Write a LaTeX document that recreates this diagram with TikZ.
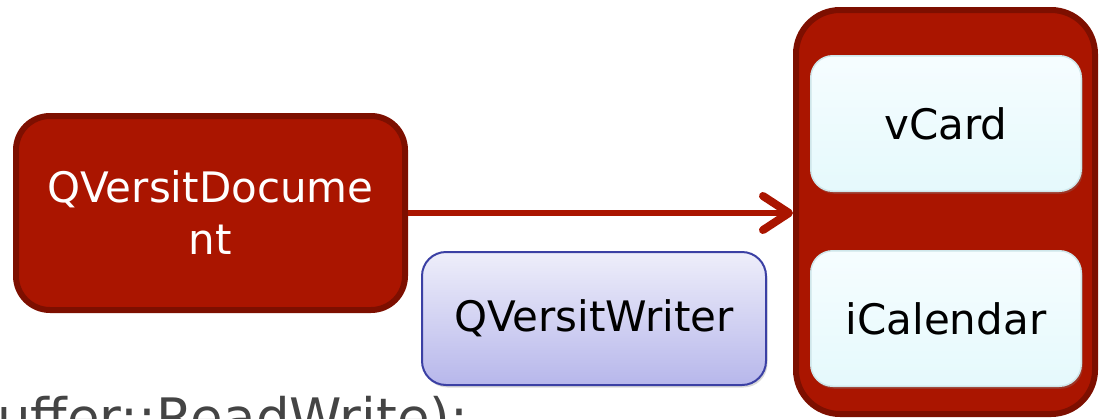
\documentclass[tikz,border=0pt]{standalone}
\usepackage{fontspec}
\setmainfont{DejaVu Sans}
\usetikzlibrary{arrows.meta,shadows}
\definecolor{qred}{HTML}{AA1500}
\definecolor{qdark}{HTML}{7D0F00}
\definecolor{cyantop}{HTML}{F6FDFF}
\definecolor{cyanbot}{HTML}{E5F9FC}
\definecolor{cyanline}{HTML}{CFE6EA}
\definecolor{lavtop}{HTML}{EEEEFA}
\definecolor{lavbot}{HTML}{B7B7EB}
\definecolor{lavline}{HTML}{3B40A4}
\definecolor{codegray}{HTML}{444444}
\tikzset{
  big/.style={font=\fontsize{42pt}{52pt}\selectfont},
  redbox/.style={big, draw=qdark, line width=6pt, fill=qred, text=white, inner sep=0pt, align=center,
    drop shadow={opacity=0.2, shadow xshift=1.5pt, shadow yshift=-2.5pt}},
  cardbox/.style={big, draw=cyanline, line width=1.5pt, top color=cyantop, bottom color=cyanbot, text=black,
    rounded corners=22pt, minimum width=270.5pt, minimum height=135.5pt, inner sep=0pt,
    drop shadow={opacity=0.3, shadow xshift=1.5pt, shadow yshift=-2.5pt}},
  writerbox/.style={big, draw=lavline, line width=2pt, top color=lavtop, bottom color=lavbot, text=black,
    rounded corners=24pt, minimum width=344pt, minimum height=133pt, inner sep=0pt,
    drop shadow={opacity=0.3, shadow xshift=1.5pt, shadow yshift=-2.5pt}},
  flow/.style={draw=qred, line width=6pt, -{Straight Barb[round, length=26pt, width=34pt, line width=8pt]}}
}
\begin{document}
\begin{tikzpicture}[x=1pt,y=1pt]
\useasboundingbox (0,0) rectangle (1105,-418);
\clip (0,0) rectangle (1105,-418);
\node[anchor=base west, inner sep=0pt, text=codegray, font=\fontsize{53pt}{60pt}\selectfont] (code) at (-3,-436) {uffer::ReadWrite);};
\node[redbox, rounded corners=34pt, minimum width=389pt, minimum height=194pt] (doc) at (210.5,-213) {QVersitDocume\\nt};
\node[redbox, rounded corners=44pt, minimum width=299pt, minimum height=404pt] (group) at (945.5,-212) {};
\node[cardbox] (vcard) at (946,-123.5) {vCard};
\node[cardbox] (ical) at (946,-318.5) {iCalendar};
\node[writerbox] (writer) at (594,-318.5) {QVersitWriter};
\draw[flow] (doc.east) -- (doc.east -| group.west);
\end{tikzpicture}
\end{document}
